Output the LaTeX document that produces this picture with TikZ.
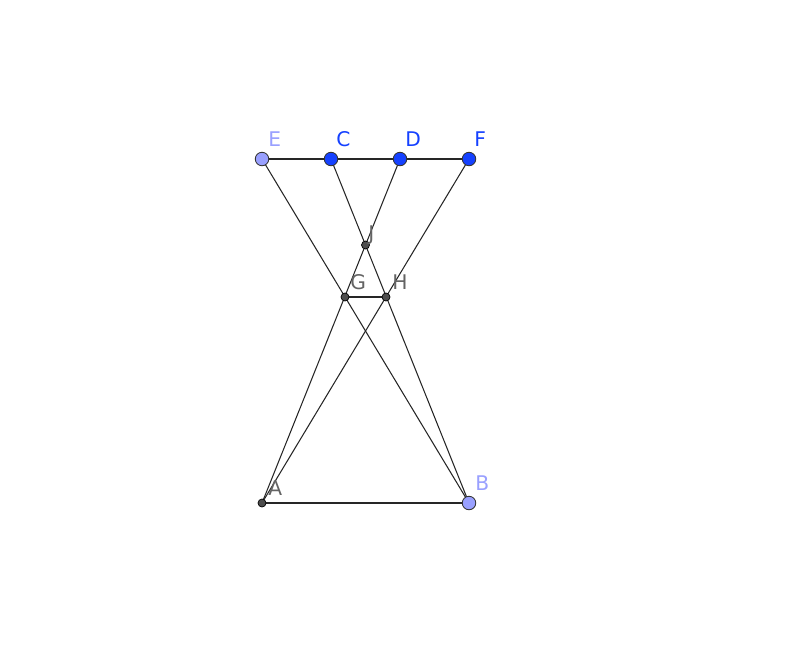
\documentclass[tikz,border=0pt]{standalone}
\usepackage{fontspec}
\setmainfont{DejaVu Sans}
\usepackage{xcolor}
\definecolor{ptblue}{RGB}{21,65,255}
\definecolor{ptlight}{RGB}{153,160,255}
\definecolor{ptgray}{RGB}{77,77,77}
\definecolor{lblgray}{RGB}{100,100,100}

\begin{document}
\begin{tikzpicture}[x=0.02cm, y=-0.02cm,
    bigpt/.style={circle, draw=black!80, line width=0.5pt, inner sep=0pt, minimum size=13.5*0.02cm},
    smallpt/.style={circle, draw=black, fill=ptgray, line width=0.4pt, inner sep=0pt, minimum size=8*0.02cm},
    lbl/.style={anchor=base west, inner sep=0pt, font=\fontsize{11.5}{12}\selectfont}]
    \useasboundingbox (0,0) rectangle (800,646);
    \coordinate (E) at (262,159);
    \coordinate (C) at (331,159);
    \coordinate (D) at (400,159);
    \coordinate (F) at (469,159);
    \coordinate (A) at (262,503);
    \coordinate (B) at (469,503);
    \coordinate (J) at (365.5,245);
    \coordinate (G) at (345,297);
    \coordinate (H) at (386,297);
    \draw[black!85, line width=0.6pt] (E) -- (F);
    \draw[black!85, line width=0.6pt] (A) -- (B);
    \draw[black!85, line width=0.6pt] (E) -- (B);
    \draw[black!85, line width=0.6pt] (F) -- (A);
    \draw[black!85, line width=0.6pt] (C) -- (B);
    \draw[black!85, line width=0.6pt] (D) -- (A);
    \draw[black!85, line width=0.6pt] (G) -- (H);
    \node[bigpt, fill=ptlight] (Ept) at (E) {};
    \node[bigpt, fill=ptblue] (Cpt) at (C) {};
    \node[bigpt, fill=ptblue] (Dpt) at (D) {};
    \node[bigpt, fill=ptblue] (Fpt) at (F) {};
    \node[bigpt, fill=ptlight] (Bpt) at (B) {};
    \node[smallpt] (Apt) at (A) {};
    \node[smallpt] (Jpt) at (J) {};
    \node[smallpt] (Gpt) at (G) {};
    \node[smallpt] (Hpt) at (H) {};
    \node[lbl, ptlight] (Elbl) at (268,146) {E};
    \node[lbl, ptblue] (Clbl) at (336,146) {C};
    \node[lbl, ptblue] (Dlbl) at (405,146) {D};
    \node[lbl, ptblue] (Flbl) at (474,146) {F};
    \node[lbl, lblgray] (Jlbl) at (368,240) {J};
    \node[lbl, lblgray] (Glbl) at (350,289) {G};
    \node[lbl, lblgray] (Hlbl) at (392,289) {H};
    \node[lbl, lblgray] (Albl) at (268,495) {A};
    \node[lbl, ptlight] (Blbl) at (475,490) {B};
  \end{tikzpicture}
\end{document}
